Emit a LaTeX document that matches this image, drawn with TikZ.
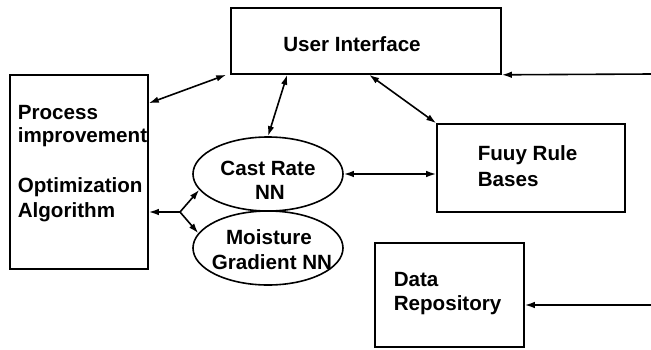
\documentclass[tikz,border=0pt]{standalone}
\usepackage{fontspec}
\setmainfont{Liberation Sans}
\usetikzlibrary{arrows.meta,shapes.geometric,calc}
\begin{document}
\begin{tikzpicture}[x=1pt,y=-1pt,line width=1.6pt,
  box/.style={draw,rectangle,inner sep=0pt},
  oval/.style={draw,ellipse,inner sep=0pt,minimum width=150pt,minimum height=74pt},
  lbl/.style={font=\fontsize{20.6}{24}\selectfont\bfseries,inner sep=0pt},
  dbl/.style={{Latex[length=10pt,width=6.5pt]}-{Latex[length=10pt,width=6.5pt]}},
  sgl/.style={-{Latex[length=10pt,width=6.5pt]}}]
\useasboundingbox (0,0) rectangle (651,349);
% boxes
\node[box,minimum width=270pt,minimum height=66pt] (ui) at (366,41) {};
\node[box,minimum width=138pt,minimum height=194pt] (proc) at (79,172) {};
\node[box,minimum width=188pt,minimum height=88pt] (fuzzy) at (531,168) {};
\node[box,minimum width=149pt,minimum height=104pt] (data) at (449.5,295) {};
\node[oval] (cast) at (268,174) {};
\node[oval] (moist) at (268,248) {};
% labels
\node[lbl] (tui) at (352,44) {User Interface};
\node[lbl,anchor=west] (tp1) at (17,113) {Process};
\node[lbl,anchor=west] (tp2) at (17,137) {improvement};
\node[lbl,anchor=west] (tp3) at (17,187) {Optimization};
\node[lbl,anchor=west] (tp4) at (17,212) {Algorithm};
\node[lbl] (tc1) at (268,168) {Cast Rate};
\node[lbl] (tc2) at (270,192) {NN};
\node[lbl] (tm1) at (269,237) {Moisture};
\node[lbl] (tm2) at (272,262) {Gradient NN};
\node[lbl,anchor=west] (tf1) at (477,155) {Fuuy Rule};
\node[lbl,anchor=west] (tf2) at (477,180) {Bases};
\node[lbl,anchor=west] (td1) at (393,280) {Data};
\node[lbl,anchor=west] (td2) at (393,305) {Repository};
% connectors
\draw[dbl] ([yshift=-29pt]proc.north east) -- ([xshift=-4pt]ui.south west);
\draw[dbl] (cast.north) -- ([xshift=57pt]ui.south west);
\draw[dbl] ([xshift=139pt]ui.south west) -- (fuzzy.north west);
\draw[dbl] (cast.east) -- (cast.east -| fuzzy.west);
\coordinate (j) at (180,212);
\draw[sgl] (j) -- (j -| proc.east);
\draw[sgl] (j) -- (cast.193);
\draw[sgl] (j) -- (moist.168);
\coordinate (r1) at (651,74);
\draw[sgl] (r1) -- (ui.south east);
\coordinate (r2) at (651,305);
\draw[sgl] (r2) -- (r2 -| data.east);
\end{tikzpicture}
\end{document}
